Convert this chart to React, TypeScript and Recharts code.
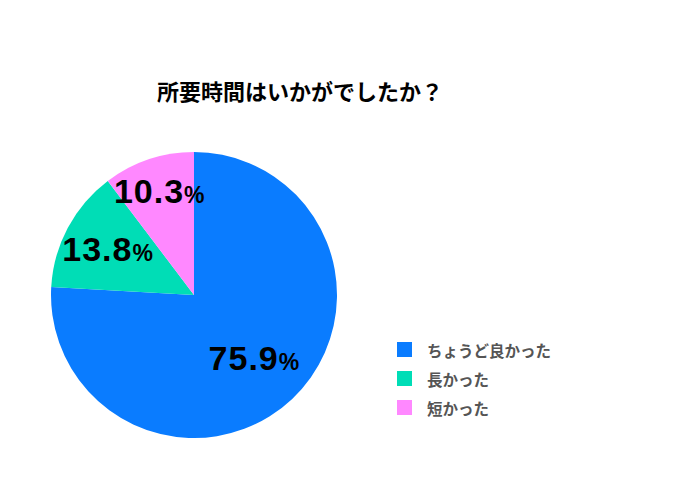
import { Cell, Legend, Pie, PieChart } from "recharts";

const categories = ["ちょうど良かった", "長かった", "短かった"];
const shares = [75.9, 13.8, 10.3];
const colors = ["#0A7CFF", "#00DDB6", "#FF88FF"];

const data = categories.map((name, i) => ({ name, value: shares[i] }));

const RAD = Math.PI / 180;
// how far out each label sits, as a share of the radius
const labelReach = [0.61, 0.685, 0.765];

function renderLabel(props: any) {
  const { cx, cy, midAngle, outerRadius, value, index } = props;
  const r = outerRadius * labelReach[index];
  const x = cx + r * Math.cos(-midAngle * RAD);
  const y = cy + r * Math.sin(-midAngle * RAD);
  return (
    <text
      x={x}
      y={y + 12}
      textAnchor="middle"
      fill="#000"
      fontFamily="'Liberation Sans', Arial, sans-serif"
      fontWeight="bold"
    >
      <tspan fontSize={34} letterSpacing={1}>
        {value.toFixed(1)}
      </tspan>
      <tspan fontSize={23}>%</tspan>
    </text>
  );
}

function renderLegend() {
  return (
    <div style={{ fontFamily: "'Noto Sans CJK JP', sans-serif" }}>
      {categories.map((name, i) => (
        <div
          key={name}
          style={{ display: "flex", alignItems: "center", height: 29 }}
        >
          <span
            style={{
              width: 15,
              height: 15,
              background: colors[i],
              display: "inline-block",
              marginRight: 15,
            }}
          />
          <span style={{ fontSize: 15.5, fontWeight: "bold", color: "#555" }}>
            {name}
          </span>
        </div>
      ))}
    </div>
  );
}

export default function App() {
  return (
    <div
      style={{
        position: "absolute",
        left: 0,
        top: 0,
        width: 680,
        height: 480,
        background: "#fff",
      }}
    >
      <div
        style={{
          position: "absolute",
          left: 0,
          width: 600,
          top: 75,
          textAlign: "center",
          fontFamily: "'Noto Sans CJK JP', sans-serif",
          fontWeight: "bold",
          fontSize: 22,
          color: "#000",
          lineHeight: "30px",
        }}
      >
        所要時間はいかがでしたか？
      </div>
      <PieChart
        width={680}
        height={480}
        margin={{ top: 0, right: 0, bottom: 0, left: 0 }}
      >
        <Pie
          data={data}
          dataKey="value"
          nameKey="name"
          cx={194}
          cy={295}
          outerRadius={143}
          startAngle={90}
          endAngle={-270}
          stroke="none"
          label={renderLabel}
          labelLine={false}
          isAnimationActive={false}
        >
          {data.map((d, i) => (
            <Cell key={d.name} fill={colors[i]} />
          ))}
        </Pie>
        <Legend
          content={renderLegend}
          layout="vertical"
          wrapperStyle={{ position: "absolute", left: 397, top: 335, width: 250 }}
        />
      </PieChart>
    </div>
  );
}
